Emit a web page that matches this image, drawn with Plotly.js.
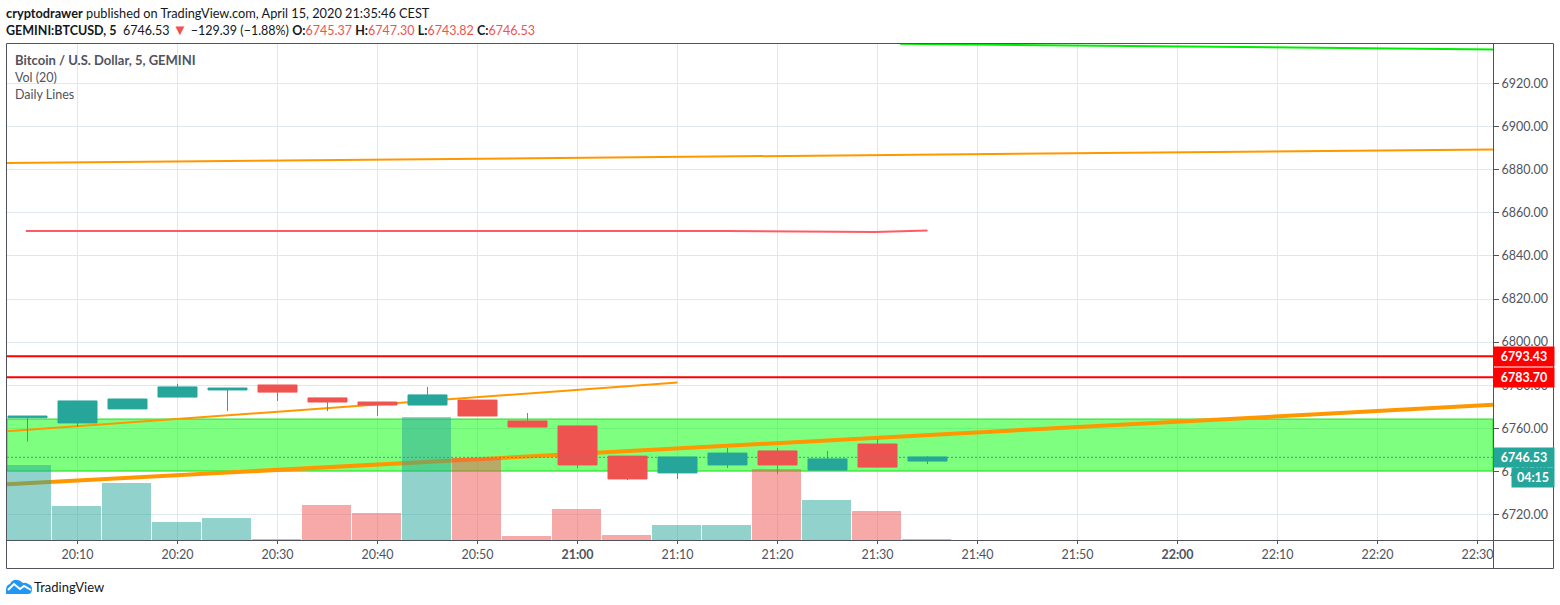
<!DOCTYPE html>
<html><head><meta charset="utf-8">
<script src="https://cdn.plot.ly/plotly-3.0.1.min.js"></script>
<style>html,body{margin:0;padding:0;background:#fff}#c{width:1560px;height:605px}</style>
</head><body><div id="c"></div>
<script>
const day = "2020-04-15 ";
const candleTimes = ["20:05","20:10","20:15","20:20","20:25","20:30","20:35","20:40","20:45","20:50","20:55","21:00","21:05","21:10","21:15","21:20","21:25","21:30","21:35"];
const opens  = [6764.9,6762.5,6769.0,6774.5,6777.8,6780.1,6774.1,6772.2,6770.8,6773.1,6763.4,6761.1,6747.1,6739.3,6743.0,6749.5,6740.6,6752.7,6744.8];
const highs  = [6765.7,6772.7,6773.6,6780.6,6778.7,6780.1,6774.1,6772.2,6779.2,6773.1,6767.1,6761.1,6747.1,6746.7,6750.9,6750.9,6749.5,6755.0,6747.1];
const lows   = [6753.8,6760.7,6769.0,6774.5,6768.0,6772.7,6768.0,6765.7,6770.8,6765.7,6760.6,6741.6,6736.0,6736.5,6741.6,6738.8,6740.6,6742.0,6743.4];
const closes = [6765.7,6772.7,6773.6,6779.2,6778.7,6776.8,6772.2,6770.8,6775.5,6765.7,6760.6,6743.0,6736.5,6746.7,6748.5,6743.0,6745.8,6742.0,6746.7];
const volumes = [75,34,57,18,22,1,35,27,123,82,4,31,5.5,15,15,71,40,29,1.3];
const volumeUp = [true,true,true,true,true,false,false,false,true,false,false,false,false,true,true,false,true,false,true];

const tickTimes = ["20:10","20:20","20:30","20:40","20:50","21:00","21:10","21:20","21:30","21:40","21:50","22:00","22:10","22:20","22:30"];
const tickLabels = ["20:10","20:20","20:30","20:40","20:50","<b>21:00</b>","21:10","21:20","21:30","21:40","21:50","<b>22:00</b>","22:10","22:20","22:30"];
const priceTicks = [6720,6740,6760,6780,6800,6820,6840,6860,6880,6900,6920];

const orangeTopT = ["20:02:57","22:31:33"];      const orangeTopP = [6883.1,6889.4];
const orangeThinT = ["20:02:57","21:10"];        const orangeThinP = [6758.6,6781.2];
const orangeThickT = ["20:02:57","22:31:33"];    const orangeThickP = [6734.0,6770.9];
const greenT = ["21:32:15","22:31:33"];          const greenP = [6938.4,6935.8];
const redThinT = ["20:04:50","21:15","21:29:45","21:35"]; const redThinP = [6851.6,6851.6,6851.1,6851.8];
const level1 = 6793.43, level2 = 6783.70, lastPrice = 6746.53;
const zoneTop = 6764.3, zoneBottom = 6740.2;

const t = s => day + s;
const W = 1486, H = 497, L = 7, T = 43;
const px = x => (x - L) / W, py = y => (T + H - y) / H;
const INK = "#50535e", GRID = "#e0e8ef", UP = "#26a69a", DOWN = "#ef5350";
const FONT = "Lato, 'Open Sans', sans-serif";
const xR = [t("20:02:57"), t("22:31:33")];
const edgeT = ["20:02:57","22:31:33"];

const line = (xs, ys, color, width, extra) => Object.assign({
  type:"scatter", mode:"lines", x:xs.map(t), y:ys, yaxis:"y", hoverinfo:"skip",
  line:{color, width}, showlegend:false }, extra||{});

const traces = [
  line(orangeTopT, orangeTopP, "#ff9800", 2),
  line(orangeThinT, orangeThinP, "#ff9800", 2),
  line(orangeThickT, orangeThickP, "#ff9800", 4),
  line(redThinT, redThinP, "#ff5b66", 2),
  line(greenT, greenP, "#00ee00", 2),
  line(edgeT, [level1,level1], "#ff0000", 2),
  line(edgeT, [level2,level2], "#ff0000", 2),
  { type:"bar", x:candleTimes.map(t), y:volumes, yaxis:"y2", hoverinfo:"skip", showlegend:false,
    width:4.9*60000, offset:-2.55*60000,
    marker:{color:volumeUp.map(u=>u?"rgba(38,166,154,0.5)":"rgba(239,83,80,0.5)"), line:{width:0}} },
  line(edgeT, [lastPrice,lastPrice], UP, 1, {yaxis:"y3", line:{color:UP,width:1,dash:"2px,2px"}}),
  { type:"candlestick", x:candleTimes.map(t), open:opens, high:highs, low:lows, close:closes, yaxis:"y3",
    hoverinfo:"skip", showlegend:false, whiskerwidth:0,
    increasing:{line:{color:UP,width:1},fillcolor:UP},
    decreasing:{line:{color:DOWN,width:1},fillcolor:DOWN} }
];

const txt = (x,y,text,o) => Object.assign({xref:"paper",yref:"paper",x:px(x-2),y:py(y),text,showarrow:false,
  xanchor:"left",yanchor:"middle",font:{family:FONT,size:12.5,color:"#131722"},align:"left"},o||{});
const tag = (y,h,x,w,text,bg) => ({xref:"paper",yref:"paper",x:px(x),y:py(y),text,showarrow:false,
  xanchor:"left",yanchor:"middle",width:w,height:h,bgcolor:bg,borderpad:0,align:"center",
  font:{family:FONT,size:12.5,color:"#fff"}});
const red = s => `<span style="color:${DOWN}">${s}</span>`;

const annotations = [
  txt(6,13,"<b>cryptodrawer</b> published on TradingView.com, April 15, 2020 21:35:46 CEST",{font:{family:FONT,size:12.75,color:"#131722"}}),
  txt(6,29,`<b>GEMINI:BTCUSD, 5</b>  6746.53 ${red('<span style="font-size:15px">▼</span>')} −129.39 (−1.88%) <b>O:</b>${red("6745.37")} <b>H:</b>${red("6747.30")} <b>L:</b>${red("6743.82")} <b>C:</b>${red("6746.53")}`),
  txt(15,60,"<b>Bitcoin / U.S. Dollar, 5, GEMINI</b>",{font:{family:FONT,size:13,color:INK}}),
  txt(15,77,"Vol (20)",{font:{family:FONT,size:12.5,color:INK}}),
  txt(15,94,"Daily Lines",{font:{family:FONT,size:12.5,color:INK}}),
  tag(356.5,19,1493,60,"<b>"+level1.toFixed(2)+"</b>","#ff0000"),
  tag(377.5,19,1493,60,"<b>"+level2.toFixed(2)+"</b>","#ff0000"),
  tag(457.5,19,1493,60,"<b>"+lastPrice.toFixed(2)+"</b>",UP),
  tag(477.5,19,1511,42,"<b>04:15</b>",UP),
  txt(34,587,"TradingView",{font:{family:FONT,size:13,color:"#131722"}})
];

const frame = {color:INK,width:1};
const rule = (x0,y0,x1,y1) => ({type:"line",xref:"paper",yref:"paper",x0:px(x0),y0:py(y0),x1:px(x1),y1:py(y1),line:frame,layer:"above"});
const shapes = [
  {type:"rect",xref:"x",yref:"y",x0:xR[0],x1:xR[1],y0:zoneBottom,y1:zoneTop,fillcolor:"rgba(0,255,0,0.5)",
   line:{color:"#1fe01f",width:1},layer:"between"},
  rule(6.5,43.5,1553.5,43.5), rule(6.5,568.5,1553.5,568.5), rule(6.5,43.5,6.5,568.5), rule(1553.5,43.5,1553.5,568.5),
  rule(1493.5,43.5,1493.5,568.5), rule(6.5,540.5,1553.5,540.5),
  {type:"path",xref:"paper",yref:"paper",xsizemode:"pixel",ysizemode:"pixel",xanchor:0,yanchor:0,
   path:"M -1 -54 L 21 -54 Q 25 -54 25 -49 Q 25 -45 21 -44 Q 19 -42 16 -43 Q 12 -39 7 -40 Q 4 -41 3 -44 Q -1 -45 -1 -50 Z",
   fillcolor:"#2196f3",line:{width:0},layer:"above"},
  {type:"path",xref:"paper",yref:"paper",xsizemode:"pixel",ysizemode:"pixel",xanchor:0,yanchor:0,
   path:"M 1 -50 L 7 -44 L 13 -49 L 17 -46 L 24 -50",
   line:{color:"#fff",width:2},layer:"above"}
];

const yHidden = {overlaying:"y",visible:false,fixedrange:true};
const layout = {
  width:1560,height:605,margin:{l:L,r:1560-L-W,t:T,b:605-T-H,pad:0},
  paper_bgcolor:"#fff",plot_bgcolor:"#fff",showlegend:false,hovermode:false,dragmode:false,
  font:{family:FONT,size:12.5,color:INK},bargap:0,boxmode:"overlay",boxgap:0.22,boxgroupgap:0,
  xaxis:{type:"date",range:xR,tickmode:"array",tickvals:tickTimes.map(t),ticktext:tickLabels,
    showgrid:true,gridcolor:GRID,gridwidth:1,ticks:"outside",ticklen:3,tickcolor:INK,tickwidth:1,
    tickfont:{family:FONT,size:12.5,color:INK},showline:false,zeroline:false,rangeslider:{visible:false},fixedrange:true},
  yaxis:{side:"right",range:[6708.17,6938.8],tickmode:"array",tickvals:priceTicks,
    ticktext:priceTicks.map(v=>v.toFixed(2)),showgrid:true,gridcolor:GRID,gridwidth:1,
    ticks:"outside",ticklen:5,tickcolor:INK,tickwidth:1,showline:false,zeroline:false,
    tickfont:{family:FONT,size:12.5,color:INK},fixedrange:true},
  yaxis2:Object.assign({range:[0,497]},yHidden),
  yaxis3:Object.assign({range:[6708.17,6938.8]},yHidden),
  shapes,annotations
};
Plotly.newPlot("c",traces,layout,{displayModeBar:false,staticPlot:true});
</script></body></html>
